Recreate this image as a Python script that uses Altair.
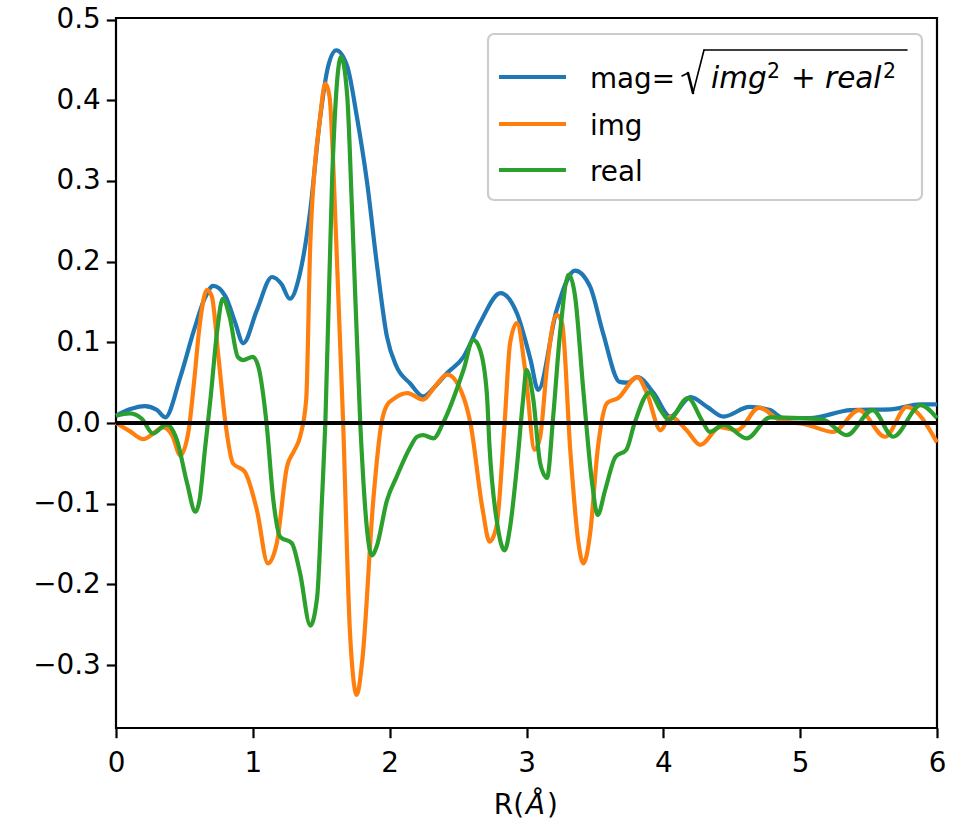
import altair as alt
import pandas as pd

# ---- data ----
mag_r = [0, 0.1, 0.21, 0.3, 0.36, 0.47, 0.57, 0.65, 0.71, 0.8, 0.87, 0.93, 1.03, 1.14, 1.21, 1.27,
         1.345, 1.42, 1.49, 1.55, 1.61, 1.69, 1.76, 1.835, 1.905, 1.98, 2.05, 2.15, 2.245, 2.33,
         2.42, 2.54, 2.66, 2.81, 2.93, 3.03, 3.085, 3.22, 3.355, 3.465, 3.56, 3.68, 3.74, 3.81,
         3.93, 4.05, 4.2, 4.32, 4.44, 4.63, 4.78, 4.88, 5.07, 5.37, 5.66, 5.88, 6.0]
mag_v = [0.009, 0.017, 0.021, 0.016, 0.007, 0.057, 0.115, 0.155, 0.170, 0.157, 0.125, 0.099,
         0.140, 0.181, 0.172, 0.154, 0.186, 0.264, 0.376, 0.442, 0.462, 0.442, 0.380, 0.298,
         0.199, 0.107, 0.070, 0.049, 0.033, 0.045, 0.062, 0.082, 0.124, 0.161, 0.136, 0.078,
         0.041, 0.140, 0.189, 0.169, 0.111, 0.051, 0.050, 0.057, 0.037, 0.008, 0.032, 0.020,
         0.008, 0.020, 0.016, 0.006, 0.006, 0.016, 0.017, 0.023, 0.023]

img_r = [0, 0.1, 0.2, 0.28, 0.34, 0.41, 0.47, 0.53, 0.57, 0.61, 0.665, 0.70, 0.75, 0.80, 0.855,
         0.94, 1.03, 1.11, 1.175, 1.25, 1.30, 1.345, 1.39, 1.42, 1.49, 1.53, 1.56, 1.61, 1.66,
         1.71, 1.76, 1.80, 1.88, 1.94, 1.98, 2.03, 2.13, 2.245, 2.33, 2.42, 2.54, 2.59, 2.68,
         2.73, 2.78, 2.84, 2.88, 2.93, 2.99, 3.06, 3.10, 3.15, 3.22, 3.26, 3.32, 3.38, 3.415,
         3.465, 3.52, 3.59, 3.67, 3.81, 3.88, 3.98, 4.05, 4.17, 4.27, 4.415, 4.54, 4.70, 4.85,
         5.05, 5.24, 5.43, 5.62, 5.78, 6.0]
img_v = [0.0, -0.01, -0.02, -0.012, -0.005, -0.015, -0.04, -0.01, 0.05, 0.119, 0.165, 0.157,
         0.08, 0.0, -0.05, -0.06, -0.108, -0.174, -0.149, -0.054, -0.035, -0.017, 0.029, 0.223,
         0.376, 0.421, 0.405, 0.223, 0.0, -0.26, -0.337, -0.294, -0.096, 0.0, 0.022, 0.03,
         0.037, 0.029, 0.045, 0.060, 0.032, 0.0, -0.108, -0.147, -0.129, 0.0, 0.099, 0.124,
         0.066, -0.033, -0.017, 0.070, 0.134, 0.124, -0.034, -0.149, -0.174, -0.137, -0.033,
         0.025, 0.031, 0.057, 0.037, -0.009, 0.008, -0.009, -0.027, -0.005, -0.009, 0.019,
         0.004, -0.002, -0.011, 0.016, -0.017, 0.020, -0.024]

real_r = [0, 0.10, 0.19, 0.27, 0.37, 0.445, 0.52, 0.58, 0.61, 0.65, 0.69, 0.74, 0.78, 0.83,
          0.89, 0.93, 1.00, 1.04, 1.10, 1.15, 1.20, 1.285, 1.345, 1.42, 1.47, 1.505, 1.53, 1.58,
          1.615, 1.645, 1.69, 1.725, 1.785, 1.835, 1.87, 1.905, 1.98, 2.05, 2.15, 2.20, 2.245,
          2.32, 2.39, 2.54, 2.61, 2.66, 2.71, 2.73, 2.79, 2.84, 2.88, 2.93, 2.975, 3.0, 3.05,
          3.10, 3.15, 3.195, 3.245, 3.31, 3.355, 3.415, 3.48, 3.52, 3.575, 3.65, 3.73, 3.79,
          3.90, 3.98, 4.04, 4.18, 4.28, 4.34, 4.44, 4.61, 4.78, 5.0, 5.17, 5.34, 5.53, 5.68,
          5.88, 6.0]
real_v = [0.009, 0.012, 0.005, -0.013, -0.002, -0.021, -0.075, -0.110, -0.096, -0.033, 0.029,
          0.115, 0.154, 0.132, 0.082, 0.078, 0.082, 0.070, 0.0, -0.096, -0.141, -0.149, -0.186,
          -0.251, -0.216, -0.096, 0.0, 0.305, 0.422, 0.454, 0.405, 0.264, 0.0, -0.133, -0.164,
          -0.153, -0.096, -0.067, -0.03, -0.017, -0.015, -0.019, 0.0, 0.066, 0.103, 0.091,
          0.037, -0.03, -0.129, -0.158, -0.129, -0.054, 0.029, 0.066, 0.029, -0.05, -0.068,
          0.008, 0.111, 0.184, 0.157, 0.041, -0.075, -0.114, -0.083, -0.042, -0.033, 0.0,
          0.038, 0.016, 0.004, 0.031, 0.004, -0.011, -0.002, -0.019, 0.007, 0.006, 0.004,
          -0.015, 0.016, -0.017, 0.022, 0.006]

x_ticks = [0, 1, 2, 3, 4, 5, 6]
y_ticks = [-0.3, -0.2, -0.1, 0.0, 0.1, 0.2, 0.3, 0.4, 0.5]
series_names = ["mag", "img", "real"]
series_colors = ["#1f77b4", "#ff7f0e", "#2ca02c"]
legend_mag_plain = "mag="
legend_mag_parts = ["img", "2", "+", "real", "2"]
legend_img = "img"
legend_real = "real"
x_title = ["R(", "Å", ")"]

# ---- layout ----
W, H = 821, 710
FONT = "DejaVu Sans"
FS = 27.8
MFS = 29.5
SUP = 20.5
LW = 4.2

xs = alt.Scale(domain=[0, 6], nice=False, zero=False)
ys = alt.Scale(domain=[-0.378, 0.502], nice=False, zero=False)

x_axis = alt.Axis(values=x_ticks, format="d", title=None, grid=False, domain=False,
                  tickSize=9.7, tickWidth=2.2, tickColor="black", labelFontSize=FS,
                  labelFont=FONT, labelColor="black", labelPadding=12, labelFlush=False)
y_axis = alt.Axis(values=y_ticks, format=".1f", title=None, grid=False, domain=False,
                  tickSize=9.7, tickWidth=2.2, tickColor="black", labelFontSize=FS,
                  labelFont=FONT, labelColor="black", labelPadding=6)


def line(r, v, color):
    df = pd.DataFrame({"R": r, "v": v})
    return alt.Chart(df).mark_line(color=color, strokeWidth=LW, interpolate="monotone").encode(
        x=alt.X("R:Q", scale=xs, axis=x_axis),
        y=alt.Y("v:Q", scale=ys, axis=y_axis),
    )


one = alt.Data(values=[{"k": 1}])

zero_line = alt.Chart(alt.Data(values=[{"z": 0}])).mark_rule(color="black", strokeWidth=LW).encode(
    y=alt.Y("z:Q", scale=ys, axis=y_axis)
)


def seg(x1, y1, x2, y2, w=1.5, color="black"):
    return alt.Chart(one).mark_rule(color=color, strokeWidth=w, strokeCap="round").encode(
        x=alt.value(x1), y=alt.value(y1), x2=alt.value(x2), y2=alt.value(y2))


def txt(s, x, y, italic=False, size=FS, align="left"):
    return alt.Chart(one).mark_text(text=s, align=align, baseline="alphabetic", font=FONT,
                                    fontSize=size, color="black",
                                    fontStyle="italic" if italic else "normal").encode(
        x=alt.value(x), y=alt.value(y))


# manual legend (pixel positions relative to plot area)
leg_box = alt.Chart(one).mark_rect(fill="white", fillOpacity=0.8, stroke="#cccccc",
                                   strokeWidth=2.2, cornerRadius=6).encode(
    x=alt.value(372), x2=alt.value(806), y=alt.value(16), y2=alt.value(182))

leg_layers = [leg_box]
for i, yy in enumerate([59, 106, 152]):
    leg_layers.append(alt.Chart(one).mark_rule(color=series_colors[i], strokeWidth=LW).encode(
        x=alt.value(383), x2=alt.value(450), y=alt.value(yy)))

leg_layers += [
    txt(legend_mag_plain, 474, 70),
    # radical sign
    seg(566, 58, 572, 55, 1.6),
    seg(572, 55, 577, 75, 2.6),
    seg(577, 75, 588, 32, 1.6),
    seg(588, 32, 791, 32, 1.6),
    txt(legend_mag_parts[0], 595, 70, italic=True, size=MFS),
    txt(legend_mag_parts[1], 651, 60, size=SUP),
    txt(legend_mag_parts[2], 675, 70, size=MFS),
    txt(legend_mag_parts[3], 709, 70, italic=True, size=MFS),
    txt(legend_mag_parts[4], 767, 60, size=SUP),
    txt(legend_img, 474, 117),
    txt(legend_real, 474, 163),
]

title_layers = [
    txt(x_title[0], 408, 796, align="right"),
    txt(x_title[1], 410, 796, italic=True),
    txt(x_title[2], 431, 796),
]

chart = alt.layer(
    line(mag_r, mag_v, series_colors[0]),
    line(img_r, img_v, series_colors[1]),
    line(real_r, real_v, series_colors[2]),
    zero_line,
    *leg_layers,
    *title_layers,
).properties(
    width=W, height=H, autosize="none",
    padding={"left": 116, "top": 18, "right": 24, "bottom": 101},
    background="white",
).configure_view(stroke="black", strokeWidth=2.2)

chart.save("out.html", embed_options={"renderer": "svg", "actions": False})
